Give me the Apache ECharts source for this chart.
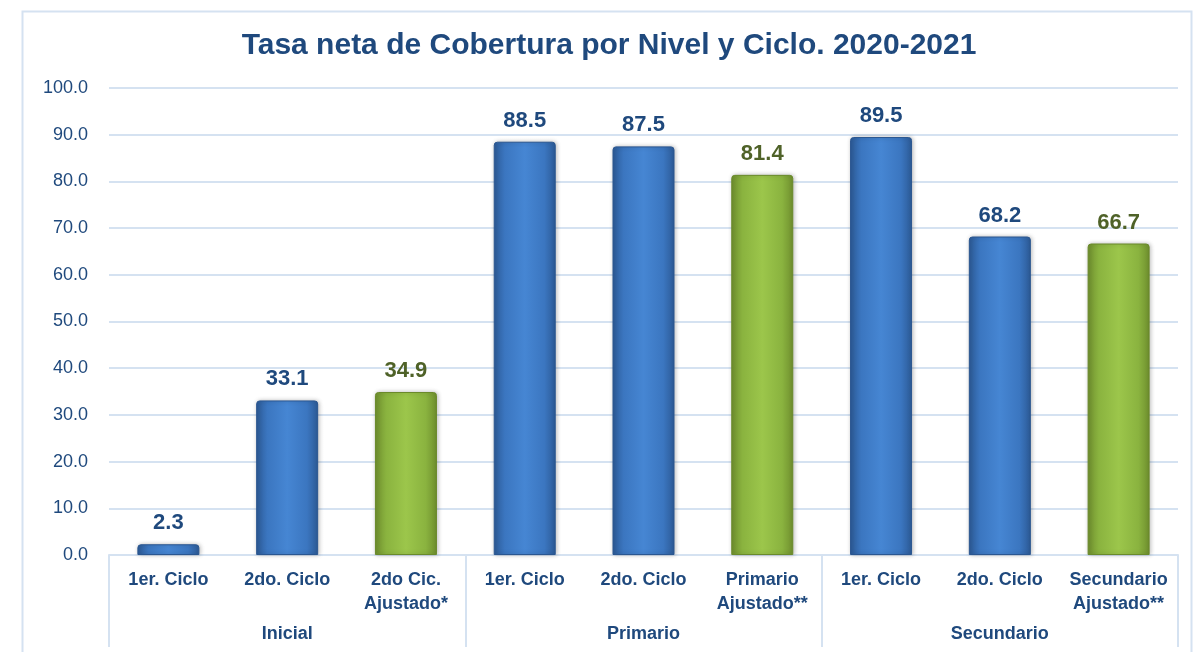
<!DOCTYPE html>
<html>
<head>
<meta charset="utf-8">
<script src="https://cdn.jsdelivr.net/npm/echarts@6/dist/echarts.min.js"></script>
<style>
  html, body { margin: 0; padding: 0; background: #fff; }
  #main { width: 1193px; height: 652px; }
</style>
</head>
<body>
<div id="main"></div>
<script>
// datos
var categorias = ['1er. Ciclo', '2do. Ciclo', '2do Cic.\nAjustado*',
                  '1er. Ciclo', '2do. Ciclo', 'Primario\nAjustado**',
                  '1er. Ciclo', '2do. Ciclo', 'Secundario\nAjustado**'];
var valores = [2.3, 33.1, 34.9, 88.5, 87.5, 81.4, 89.5, 68.2, 66.7];
var niveles = ['Inicial', 'Primario', 'Secundario'];
var ticksY = [0, 10, 20, 30, 40, 50, 60, 70, 80, 90, 100];

var azul = '#1F497D';
var fuente = 'Arial, "Liberation Sans", sans-serif';

function barraAzul() {
    return new echarts.graphic.LinearGradient(0, 0, 1, 0, [
        { offset: 0, color: '#2C5A96' },
        { offset: 0.18, color: '#3B76C0' },
        { offset: 0.5, color: '#4686D3' },
        { offset: 0.82, color: '#3B76C0' },
        { offset: 1, color: '#2C5A96' }
    ]);
}
function barraVerde() {
    return new echarts.graphic.LinearGradient(0, 0, 1, 0, [
        { offset: 0, color: '#6F8F2E' },
        { offset: 0.18, color: '#8AB33F' },
        { offset: 0.5, color: '#9CC64B' },
        { offset: 0.82, color: '#8AB33F' },
        { offset: 1, color: '#6F8F2E' }
    ]);
}

var datos = valores.map(function (v, i) {
    var ajustado = categorias[i].indexOf('Ajustado') >= 0;
    return {
        value: v,
        itemStyle: {
            color: ajustado ? barraVerde() : barraAzul(),
            borderColor: ajustado ? '#6A8A2A' : '#2A5690',
            borderWidth: 1,
            borderRadius: [3, 3, 0, 0],
            shadowColor: 'rgba(0,0,0,0.25)',
            shadowBlur: 4,
            shadowOffsetX: 1
        },
        label: { color: ajustado ? '#4F6228' : azul }
    };
});

var myChart = echarts.init(document.getElementById('main'));

var option = {
    backgroundColor: '#fff',
    animation: false,
    title: {
        text: 'Tasa neta de Cobertura por Nivel y Ciclo. 2020-2021',
        left: 604,
        textAlign: 'center',
        top: 26,
        textStyle: { fontFamily: fuente, fontSize: 30, fontWeight: 'bold', color: azul }
    },
    graphic: [{
        type: 'rect',
        shape: { x: 22.5, y: 11.5, width: 1169, height: 700 },
        style: { fill: 'none', stroke: '#D5E2F1', lineWidth: 2 },
        silent: true
    }],
    grid: { left: 109, right: 15, top: 88, bottom: 97 },
    xAxis: [{
        type: 'category',
        data: categorias,
        axisLine: { show: true, lineStyle: { color: '#D5E2F1', width: 2 } },
        axisTick: { show: false },
        axisLabel: {
            interval: 0, margin: 13, lineHeight: 24,
            fontFamily: fuente, fontSize: 18, fontWeight: 'bold', color: azul
        }
    }, {
        type: 'category',
        position: 'bottom',
        data: niveles,
        axisLine: { show: false },
        axisTick: { show: true, length: 92, lineStyle: { color: '#D5E2F1', width: 2 } },
        axisLabel: {
            margin: 70,
            fontFamily: fuente, fontSize: 18, fontWeight: 'bold', color: azul
        }
    }],
    yAxis: {
        type: 'value',
        min: ticksY[0],
        max: ticksY[ticksY.length - 1],
        interval: 10,
        axisLine: { show: false },
        axisTick: { show: false },
        splitLine: { lineStyle: { color: '#D5E2F1', width: 2 } },
        axisLabel: {
            margin: 21,
            fontFamily: fuente, fontSize: 18, color: azul,
            formatter: function (v) { return v.toFixed(1); }
        }
    },
    series: [{
        type: 'bar',
        xAxisIndex: 0,
        barWidth: 62,
        data: datos,
        label: {
            show: true,
            position: 'top',
            distance: 10,
            fontFamily: fuente, fontSize: 22, fontWeight: 'bold',
            formatter: function (p) { return p.value.toFixed(1); }
        }
    }]
};

myChart.setOption(option);
</script>
</body>
</html>
